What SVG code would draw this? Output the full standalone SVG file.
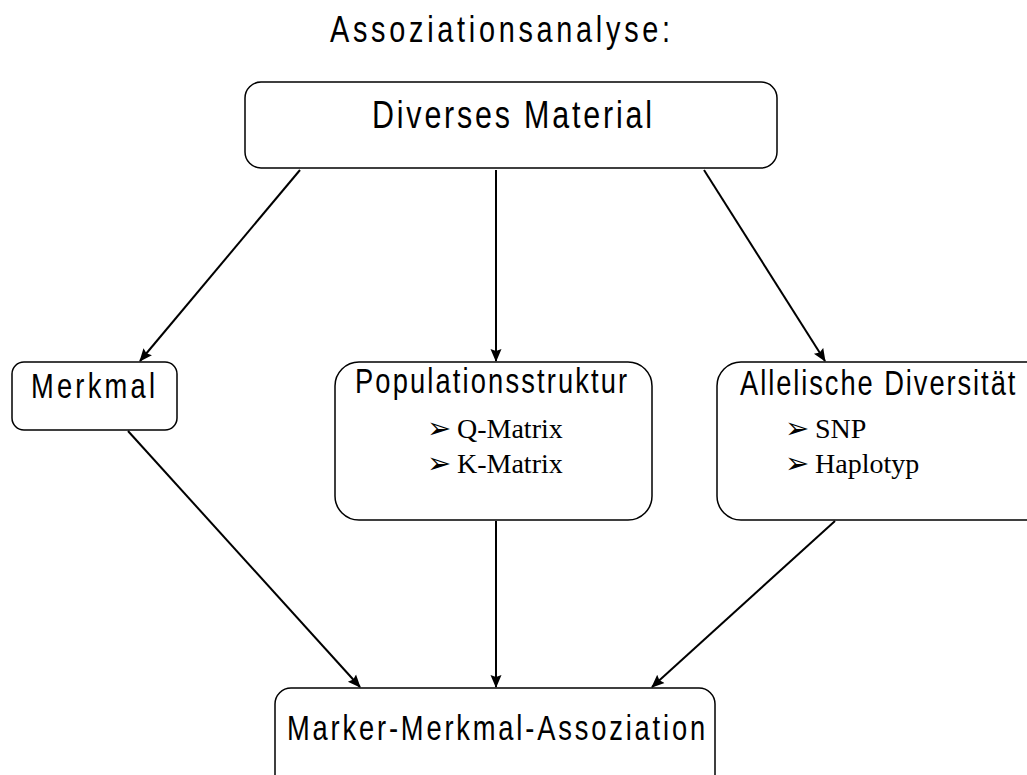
<svg xmlns="http://www.w3.org/2000/svg" width="1027" height="775" viewBox="0 0 1027 775">
<style>
.box{fill:#fff;stroke:#000;stroke-width:1.5}
.h{font-family:"Liberation Sans",Arial,sans-serif;fill:#000}
.s{font-family:"Liberation Serif","Times New Roman",serif;font-size:28px;fill:#000}
.b{font-family:"DejaVu Sans",sans-serif;font-size:29px;fill:#000}
.c{stroke:#000;stroke-width:2;fill:none;marker-end:url(#ah)}
</style>
<defs>
<marker id="ah" markerWidth="13" markerHeight="13" refX="12" refY="6.5" orient="auto" markerUnits="userSpaceOnUse" viewBox="0 0 13 13">
<path d="M0,1 L13,6.5 L0,12 L2,6.5 z" fill="#000"/>
</marker>
</defs>
<rect width="1027" height="775" fill="#fff"/>
<text class="h" transform="translate(330,42) scale(0.78,1)" font-size="37" textLength="436" lengthAdjust="spacing">Assoziationsanalyse:</text>
<g id="connectors">
<line class="c" x1="300" y1="170" x2="140" y2="361"/>
<line class="c" x1="496" y1="170" x2="496" y2="361"/>
<line class="c" x1="704" y1="170" x2="825" y2="361"/>
<line class="c" x1="128" y1="431" x2="360" y2="687"/>
<line class="c" x1="496" y1="521" x2="496" y2="687"/>
<line class="c" x1="835" y1="521" x2="652" y2="687"/>
</g>
<g id="diverses">
<rect class="box" x="245" y="82" width="532" height="86" rx="16"/>
<text class="h" transform="translate(372,128) scale(0.78,1)" font-size="39" textLength="359" lengthAdjust="spacing">Diverses Material</text>
</g>
<g id="merkmal">
<rect class="box" x="12" y="362" width="165" height="68" rx="12"/>
<text class="h" transform="translate(31,398) scale(0.78,1)" font-size="35" textLength="159" lengthAdjust="spacing">Merkmal</text>
</g>
<g id="population">
<rect class="box" x="335" y="362" width="317" height="158" rx="24"/>
<text class="h" transform="translate(355,393) scale(0.78,1)" font-size="35" textLength="349" lengthAdjust="spacing">Populationsstruktur</text>
<text class="b" x="427" y="438">➢</text>
<text class="s" x="457" y="438">Q-Matrix</text>
<text class="b" x="427" y="473">➢</text>
<text class="s" x="457" y="473">K-Matrix</text>
</g>
<g id="allelische">
<rect class="box" x="717" y="362" width="340" height="158" rx="24"/>
<text class="h" transform="translate(740,395) scale(0.78,1)" font-size="35" textLength="353" lengthAdjust="spacing">Allelische Diversität</text>
<text class="b" x="785" y="438">➢</text>
<text class="s" x="815" y="438">SNP</text>
<text class="b" x="785" y="473">➢</text>
<text class="s" x="815" y="473">Haplotyp</text>
</g>
<g id="assoziation">
<rect class="box" x="275" y="688" width="440" height="110" rx="16"/>
<text class="h" transform="translate(287,740) scale(0.78,1)" font-size="35" textLength="536" lengthAdjust="spacing">Marker-Merkmal-Assoziation</text>
</g>
</svg>
